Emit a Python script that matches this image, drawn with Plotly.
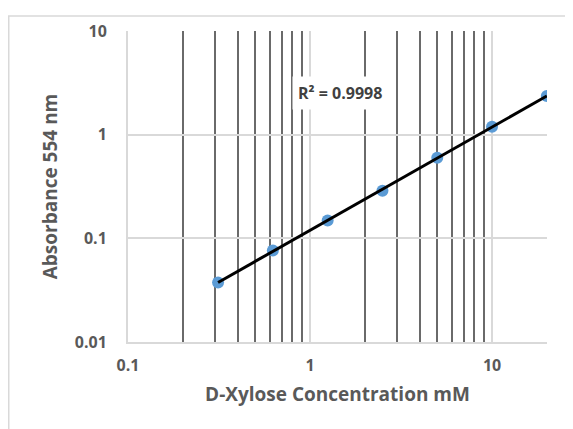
import numpy as np
import plotly.graph_objects as go

concentration = [0.3125, 0.625, 1.25, 2.5, 5, 10, 20]
absorbance = [0.0375, 0.0762, 0.149, 0.288, 0.60, 1.195, 2.37]
x_tick_vals = [0.1, 1, 10]
x_tick_text = ["0.1", "1", "10"]
y_tick_vals = [0.01, 0.1, 1, 10]
y_tick_text = ["0.01", "0.1", "1", "10"]
minor_x = [0.2, 0.3, 0.4, 0.5, 0.6, 0.7, 0.8, 0.9, 2, 3, 4, 5, 6, 7, 8, 9, 20]
r2_label = "R² = 0.9998"

# power trendline (least squares in log space)
lx = np.log10(concentration)
ly = np.log10(absorbance)
b, a = np.polyfit(lx, ly, 1)
tx = np.array([min(concentration), max(concentration)])
ty = 10 ** (a + b * np.log10(tx))

font_fam = "Open Sans, DejaVu Sans, sans-serif"
gray = "#595959"

W, H = 565, 421
ML, MT = 120, 16
PW, PH = 419, 318

fig = go.Figure()
fig.add_trace(go.Scatter(x=concentration, y=absorbance, mode="markers",
                         marker=dict(color="#5B9BD5", size=12), showlegend=False))
fig.add_trace(go.Scatter(x=tx, y=ty, mode="lines",
                         line=dict(color="black", width=3), showlegend=False))

fig.update_layout(
    width=W, height=H,
    margin=dict(l=ML, r=W - ML - PW, t=MT, b=H - MT - PH),
    paper_bgcolor="white", plot_bgcolor="white",
    font=dict(family=font_fam, color=gray),
    annotations=[dict(x=np.log10(0.80), y=np.log10(2.52), xref="x", yref="y",
                      text=r2_label, showarrow=False, xanchor="left",
                      bgcolor="white", borderpad=5,
                      font=dict(size=16, color="#404040", family=font_fam, weight="bold"))],
    shapes=[dict(type="rect", xref="paper", yref="paper",
                 x0=(0.75 - ML) / PW, x1=(W + 20 - ML) / PW,
                 y0=(MT + PH - H - 20) / PH, y1=(MT + PH - 0.75) / PH,
                 line=dict(color="#d9d9d9", width=1.5), layer="below")],
)
fig.update_xaxes(type="log", range=[-1, np.log10(20) + 0.001],
                 tickvals=x_tick_vals, ticktext=x_tick_text,
                 tickfont=dict(size=16, color=gray, weight="bold"),
                 showgrid=True, gridcolor="#d9d9d9", gridwidth=2,
                 minor=dict(tickvals=minor_x, showgrid=True, gridcolor="#6a6a6a", gridwidth=2, ticks=""),
                 showline=True, linecolor="#d9d9d9", linewidth=2,
                 zeroline=False, ticks="", ticklabelstandoff=8,
                 title=dict(text="D-Xylose Concentration mM", standoff=12,
                            font=dict(size=19, color=gray, weight="bold")))
fig.update_yaxes(type="log", range=[-2, 1.001],
                 tickvals=y_tick_vals, ticktext=y_tick_text,
                 tickfont=dict(size=16, color=gray, weight="bold"),
                 showgrid=True, gridcolor="#d9d9d9", gridwidth=2,
                 showline=True, linecolor="#d9d9d9", linewidth=2,
                 zeroline=False, ticks="", ticklabelstandoff=16,
                 title=dict(text="Absorbance 554 nm", standoff=12,
                            font=dict(size=19, color=gray, weight="bold")))

fig.write_html("out.html")
